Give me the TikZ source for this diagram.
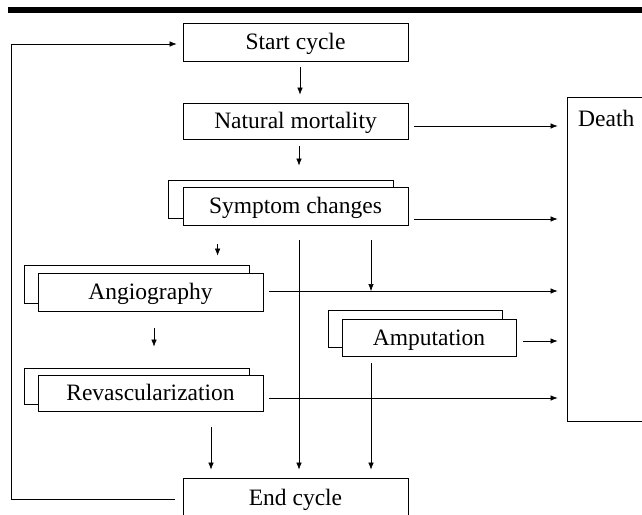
\documentclass[tikz,border=0pt]{standalone}
\usepackage{fontspec}
\setmainfont{Liberation Serif}
\usetikzlibrary{arrows.meta,calc}
\begin{document}
\begin{tikzpicture}[x=1pt,y=-1pt,
  box/.style={draw, line width=0.8pt, fill=white, font=\fontsize{23.5}{28}\selectfont, text height=15.6pt, text depth=0pt, inner sep=0pt},
  arr/.style={line width=0.6pt, -{Latex[length=7pt,width=5.5pt]}},
  lbl/.style={font=\fontsize{23.5}{28}\selectfont, inner sep=0pt}]
\useasboundingbox (0,0) rectangle (642,514);
\clip (0,0) rectangle (642,514);
\fill[black] (8,7) rectangle (642,12.5);
% boxes
\node[box, minimum width=225pt, minimum height=38pt] (start) at (295.5,42) {Start cycle};
\node[box, minimum width=225pt, minimum height=36pt] (natural) at (295.5,121) {Natural mortality};
\node[box, minimum width=225pt, minimum height=38pt] (symback) at (280.5,199) {};
\node[box, minimum width=225pt, minimum height=38pt] (sym) at (295.5,206) {Symptom changes};
\node[box, minimum width=225pt, minimum height=38pt] (angback) at (136.5,284) {};
\node[box, minimum width=225pt, minimum height=38pt] (ang) at (150.5,292) {Angiography};
\node[box, minimum width=174pt, minimum height=37pt] (ampback) at (415,328.5) {};
\node[box, minimum width=174pt, minimum height=37pt] (amp) at (429,337.5) {Amputation};
\node[box, minimum width=225pt, minimum height=36pt] (revback) at (136.5,386) {};
\node[box, minimum width=225pt, minimum height=36pt] (rev) at (150.5,393) {Revascularization};
\node[box, minimum width=225pt, minimum height=40pt] (end) at (295.5,498) {End cycle};
\node[draw, line width=0.9pt, minimum width=100pt, minimum height=324pt, inner sep=0pt] (death) at (617,259) {};
\node[lbl, anchor=base west] (deathtxt) at (578,126) {Death};
% vertical arrows
\draw[arr] ($(start.south)+(4.5,6)$) -- ($(natural.north)+(4.5,-8)$);
\draw[arr] ($(natural.south)+(3.5,7)$) -- ($(symback.north)+(18.5,-14)$);
\draw[arr] ($(sym.south west)+(35,19)$) -- ($(angback.north west)+(194,-9)$);
\draw[arr] ($(ang.south)+(3.5,17)$) -- ($(revback.north)+(17.5,-21)$);
\coordinate (e8) at ($(end.north)+(0,-8)$);
\draw[arr] ($(sym.south)+(3.5,15)$) -- ($(end.north)+(3.5,-8)$);
\coordinate (r2) at ($(rev.south)+(60.5,16)$);
\draw[arr] (r2) -- (r2 |- e8);
% arrows to death
\coordinate (nd) at ($(natural.east)+(6,5)$);
\draw[arr] (nd) -- ($(death.west |- nd)+(-9,0)$);
\coordinate (sd) at ($(sym.east)+(6,13)$);
\draw[arr] (sd) -- ($(death.west |- sd)+(-9,0)$);
\coordinate (ad) at ($(ang.east)+(6,-1)$);
\draw[arr] (ad) -- ($(death.west |- ad)+(-9,0)$);
\coordinate (md) at ($(amp.east)+(7,3.5)$);
\draw[arr] (md) -- ($(death.west |- md)+(-9,0)$);
\coordinate (rd) at ($(rev.east)+(6,5)$);
\draw[arr] (rd) -- ($(death.west |- rd)+(-9,0)$);
% branch to amputation path
\coordinate (s3) at ($(sym.south)+(75.5,15)$);
\draw[arr] (s3) -- (s3 |- ad);
\coordinate (m3) at ($(amp.south)+(-58,7)$);
\draw[arr] (m3) -- (m3 |- e8);
% loop back
\draw[arr] ($(end.west)+(-8,1)$) -| ($(start.west)+(-171,2)$) -- ($(start.west)+(-6,2)$);
\end{tikzpicture}
\end{document}
